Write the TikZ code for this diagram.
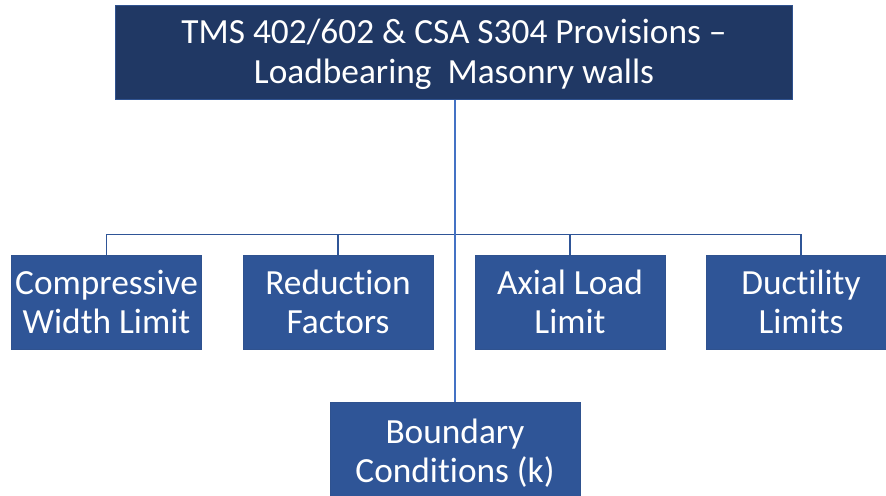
\documentclass[tikz,border=0pt]{standalone}
\usepackage{fontspec}
\setmainfont{Carlito}[RawFeature=-liga]
\usepackage{xcolor}
\definecolor{chartnavy}{HTML}{203864}
\definecolor{chartblue}{HTML}{2F5597}
\definecolor{chartedge}{HTML}{2F528F}
\definecolor{chartline}{HTML}{4472C4}

\begin{document}
\begin{tikzpicture}[
  x=0.75pt,
  y=-0.75pt,
  every node/.style={font=\fontsize{26.5}{29.4}\selectfont, white, align=center,
    inner sep=0pt},
  headbox/.style={fill=chartnavy, draw=chartedge, line width=0.6pt,
    minimum width=508pt, minimum height=71pt},
  itembox/.style={fill=chartblue, draw=chartedge, line width=0.6pt,
    minimum width=142.5pt, minimum height=70.5pt},
  branch/.style={chartblue, line width=0.9pt},
  trunk/.style={chartline, line width=1.5pt}
]
  % ---- page size, same as the reference ------------------------------
  \useasboundingbox (0,0) rectangle (886,496);

  % ---- the title box -------------------------------------------------
  \node[headbox, text depth=2pt] (head) at (454,52.5)
    {TMS 402/602 \& CSA S304 Provisions --\\Loadbearing\ \ Masonry walls};

  % ---- the four provisions -------------------------------------------
  \node[itembox] (cw) at (106.5,302) {Compressive\\Width Limit};
  \node[itembox] (rf) at (338,302) {Reduction\\Factors};
  \node[itembox] (al) at (570,302) {Axial Load\\Limit};
  \node[itembox] (dl) at (801,302) {Ductility\\Limits};

  % ---- the one below the bar -----------------------------------------
  \node[itembox, minimum width=187.5pt, minimum height=76pt] (bc)
    at (455,453.5) {Boundary\\Conditions (k)};

  % ---- connectors ----------------------------------------------------
  \coordinate (bar) at (455,234.5);
  \draw[branch] (cw.north) |- (bar) -| (dl.north);
  \draw[branch] (rf.north) -- (rf.north |- bar);
  \draw[branch] (al.north) -- (al.north |- bar);
  \draw[trunk] (head.south -| bc.north) -- (bc.north);
\end{tikzpicture}
\end{document}
